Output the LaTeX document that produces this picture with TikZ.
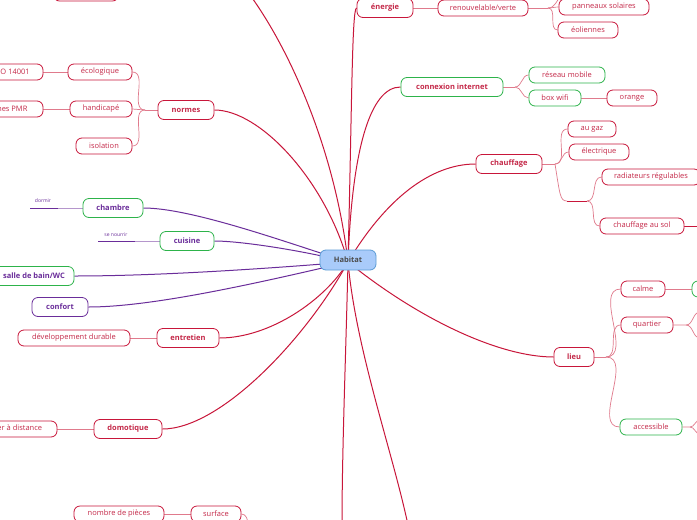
\documentclass[tikz,border=0pt]{standalone}
\usepackage{fontspec}
\setmainfont{Open Sans}
\usetikzlibrary{backgrounds}
\definecolor{mred}{HTML}{C8163A}
\definecolor{lred}{HTML}{E07A8C}
\definecolor{tred}{HTML}{C42848}
\definecolor{mpur}{HTML}{6A2D9A}
\definecolor{mgrn}{HTML}{2DB34A}
\definecolor{hfill}{HTML}{A9CBFA}
\definecolor{hdraw}{HTML}{5B9BD5}
\tikzset{
 bx/.style={draw=mred,fill=white,rounded corners=6pt,line width=0.8pt,minimum height=16pt,inner sep=0pt,text=tred,font=\fontsize{7.5}{9}\selectfont},
 mainbx/.style={bx,minimum height=19pt,font=\fontsize{7.5}{9}\selectfont\bfseries},
 gbx/.style={bx,draw=mgrn},
 medge/.style={draw=mred,line width=1pt},
 sedge/.style={draw=lred,line width=0.7pt},
 pedge/.style={draw=mpur,line width=1pt},
}
\begin{document}
\begin{tikzpicture}[x=1pt,y=-1pt]
\clip (0,0) rectangle (697,520);
\coordinate (H) at (348,262);
% nodes
\node[bx,minimum width=65pt] (tl) at (86,-7) {};
\node[mainbx,minimum width=56pt] (ene) at (385,8) {énergie};
\node[bx,minimum width=90pt] (ren) at (483,8) {renouvelable/verte};
\node[bx,minimum width=90pt] (pan) at (604,7) {panneaux solaires};
\node[bx,minimum width=60pt] (eol) at (588,30) {éoliennes};
\node[mainbx,draw=mgrn,minimum width=102pt] (con) at (452,87) {connexion internet};
\node[gbx,minimum width=76pt] (res) at (567,75) {réseau mobile};
\node[gbx,minimum width=52pt] (box) at (555,98) {box wifi};
\node[bx,minimum width=50pt] (ora) at (632,98) {orange};
\node[mainbx,minimum width=66pt] (cha) at (509,164) {chauffage};
\node[bx,minimum width=48pt] (gaz) at (592,129) {au gaz};
\node[bx,minimum width=60pt] (ele) at (599,152) {électrique};
\coordinate (cj) at (587,201);
\node[bx,minimum width=98pt] (rad) at (651,177) {radiateurs régulables};
\node[bx,minimum width=84pt] (sol) at (642,226) {chauffage au sol};
\node[mainbx,minimum width=56pt] (nor) at (186,110) {normes};
\node[bx,minimum width=64pt] (eco) at (100,72) {écologique};
\node[bx,minimum width=62pt] (iso) at (12,72) {ISO 14001};
\node[bx,minimum width=76pt] (pmr) at (5,109) {normes PMR};
\node[bx,minimum width=62pt] (han) at (101,109) {handicapé};
\node[bx,minimum width=56pt] (isol) at (104,146) {isolation};
\node[mainbx,draw=mgrn,text=mpur,minimum width=60pt] (chb) at (113,208) {chambre};
\node[mainbx,draw=mgrn,text=mpur,minimum width=54pt] (cui) at (187,241) {cuisine};
\node[mainbx,draw=mgrn,text=mpur,minimum width=80pt] (sal) at (34,276) {salle de bain/WC};
\node[mainbx,draw=mpur,text=mpur,minimum width=56pt] (cof) at (60,307) {confort};
\node[mainbx,minimum width=62pt] (ent) at (188,338) {entretien};
\node[bx,minimum width=112pt] (dev) at (74,338) {développement durable};
\node[mainbx,minimum width=68pt] (dom) at (128,429) {domotique};
\node[bx,minimum width=90pt] (pil) at (12,429) {piloter à distance};
\node[bx,minimum width=90pt] (nbp) at (119,514) {nombre de pièces};
\node[bx,minimum width=50pt] (sur) at (216,514) {surface};
\node[mainbx,minimum width=40pt] (lie) at (574,357) {lieu};
\node[bx,minimum width=44pt] (cal) at (643,289) {calme};
\node[gbx,minimum width=20pt] (calg) at (702,289) {};
\node[bx,minimum width=52pt] (qua) at (647,325) {quartier};
\node[gbx,minimum width=62pt] (acc) at (651,427) {accessible};
\node[mainbx,draw=hdraw,fill=hfill,text=black!70,minimum width=56pt,minimum height=20pt] (hab) at (348,260) {Habitat};
\node[text=mpur,font=\fontsize{5}{6}\selectfont] at (43,201) {dormir};
\node[text=mpur,font=\fontsize{5}{6}\selectfont] at (116,235) {se nourrir};
\begin{pgfonlayer}{background}
\fill[white] (0,0) rectangle (697,520);
\draw[medge] (H) .. controls (352,100) and (352,8) .. (ene.west);
\draw[medge] (H) .. controls (352,150) and (370,87) .. (con.west);
\draw[medge] (H) .. controls (385,200) and (430,164) .. (cha.west);
\draw[medge] (H) .. controls (420,320) and (500,357) .. (lie.west);
\draw[medge] (H) .. controls (325,180) and (260,110) .. (nor.east);
\draw[medge] (H) .. controls (335,150) and (290,50) .. (250,-5);
\draw[pedge] (H) .. controls (280,240) and (190,208) .. (chb.east);
\draw[pedge] (H) .. controls (300,250) and (240,241) .. (cui.east);
\draw[pedge] (H) .. controls (250,270) and (150,276) .. (sal.east);
\draw[pedge] (H) .. controls (250,285) and (150,307) .. (cof.east);
\draw[medge] (H) .. controls (325,300) and (270,338) .. (ent.east);
\draw[medge] (H) .. controls (305,340) and (220,429) .. (dom.east);
\draw[medge] (H) .. controls (346,350) and (342,450) .. (342,525);
\draw[medge] (H) .. controls (356,350) and (392,450) .. (408,525);
% sub-branches
\draw[sedge] (ene.east) -- (ren.west);
\draw[sedge] (ren.east) -- (548,8) coordinate (rj);
\draw[sedge] (rj) to[out=0,in=180] (pan.west);
\draw[sedge] (rj) to[out=0,in=180] (eol.west);
\draw[sedge] (rj) to[out=0,in=220] (562,-5);
\draw[sedge] (con.east) -- (515,87) coordinate (cjj);
\draw[sedge] (cjj) to[out=0,in=180] (res.west);
\draw[sedge] (cjj) to[out=0,in=180] (box.west);
\draw[sedge] (box.east) -- (ora.west);
\draw[sedge] (cha.east) -- (555,164) coordinate (chj);
\draw[sedge] (chj) to[out=0,in=180] (gaz.west);
\draw[sedge] (chj) to[out=0,in=180] (ele.west);
\draw[sedge] (chj) .. controls (560,195) and (560,201) .. (567,201);
\draw[medge] (567,201) -- (cj);
\draw[sedge] (cj) to[out=0,in=180] (rad.west);
\draw[sedge] (cj) to[out=0,in=180] (sol.west);
\draw[medge] (sol.east) -- (700,226);
\draw[sedge] (nor.west) -- (145,110) coordinate (nj);
\draw[sedge] (nj) to[out=180,in=0] (eco.east);
\draw[sedge] (nj) -- (han.east);
\draw[sedge] (nj) to[out=180,in=0] (isol.east);
\draw[sedge] (eco.west) -- (iso.east);
\draw[sedge] (han.west) -- (pmr.east);
\draw[sedge,draw=mpur!50] (chb.west) -- (58,208);
\draw[pedge] (58,208) -- (30,208);
\draw[sedge,draw=mpur!50] (cui.west) -- (135,241);
\draw[pedge] (135,241) -- (98,241);
\draw[sedge] (ent.west) -- (dev.east);
\draw[sedge] (dom.west) -- (pil.east);
\draw[sedge] (sur.west) -- (nbp.east);
\draw[sedge] (sur.east) to[out=0,in=90] (248,525);
\draw[sedge] (lie.east) -- (606,357) coordinate (lj);
\draw[sedge] (lj) to[out=0,in=180] (cal.west);
\draw[sedge] (lj) to[out=0,in=180] (qua.west);
\draw[sedge] (lj) to[out=0,in=180] (acc.west);
\draw[sedge] (cal.east) -- (calg.west);
\draw[sedge] (qua.east) -- (686,325) to[out=0,in=180] (700,312);
\draw[sedge] (686,325) to[out=0,in=180] (700,338);
\draw[sedge] (acc.east) -- (690,427) to[out=0,in=180] (700,420);
\draw[sedge] (690,427) to[out=0,in=180] (700,434);
\end{pgfonlayer}
\end{tikzpicture}
\end{document}
